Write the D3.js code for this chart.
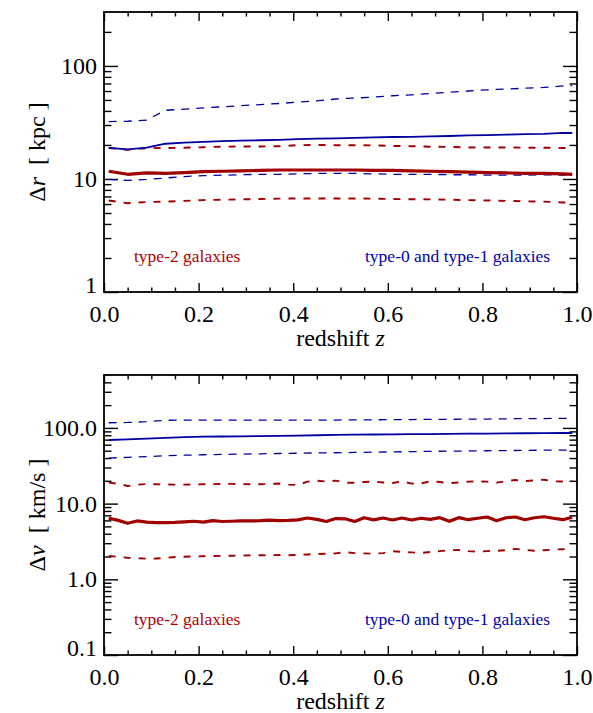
<!DOCTYPE html>
<html>
<head>
<meta charset="utf-8">
<script src="https://cdn.jsdelivr.net/npm/d3@7"></script>
<style>
  body { margin: 0; background: #fff; }
  svg text { font-family: "Liberation Serif", "Times New Roman", "DejaVu Serif", serif; }
</style>
</head>
<body>
<svg id="chart" width="593" height="713"></svg>
<script>
// redshift sampling: coarse grid (step 0.04) and fine grid (step 0.02)
const zCoarse = [0.01, 0.05, 0.09, 0.13, 0.17, 0.21, 0.25, 0.29, 0.33, 0.37, 0.41, 0.45, 0.49,
  0.53, 0.57, 0.61, 0.65, 0.69, 0.73, 0.77, 0.81, 0.85, 0.89, 0.93, 0.97, 0.99];
const zFine = [0.01, 0.03, 0.05, 0.07, 0.09, 0.11, 0.13, 0.15, 0.17, 0.19, 0.21, 0.23, 0.25,
  0.27, 0.29, 0.31, 0.33, 0.35, 0.37, 0.39, 0.41, 0.43, 0.45, 0.47, 0.49, 0.51, 0.53, 0.55,
  0.57, 0.59, 0.61, 0.63, 0.65, 0.67, 0.69, 0.71, 0.73, 0.75, 0.77, 0.79, 0.81, 0.83, 0.85,
  0.87, 0.89, 0.91, 0.93, 0.95, 0.97, 0.99];

// top panel: delta r [kpc]
const drBlueHi = [32.2, 32.4, 33.2, 40.5, 41.5, 42.5, 43.5, 44.5, 45.5, 46.5, 47.8, 49, 51,
  52, 53, 54.5, 55.5, 57, 58.5, 60, 61.5, 62.5, 63.5, 64.5, 66.5, 67];
const drBlueMed = [18.8, 18.3, 18.9, 20.5, 21.0, 21.3, 21.6, 21.8, 22.0, 22.2, 22.5, 22.7, 22.9,
  23.1, 23.3, 23.5, 23.6, 23.8, 24.0, 24.3, 24.4, 24.7, 24.9, 25.1, 25.6, 25.5];
const drBlueLo = [9.9, 9.7, 9.9, 10.2, 10.5, 10.7, 10.8, 10.9, 11.0, 11.0, 11.1, 11.2, 11.2,
  11.2, 11.1, 11.0, 11.0, 11.0, 10.9, 10.9, 10.8, 10.8, 10.8, 10.9, 10.8, 10.8];
const drRedHi = [18.8, 18.1, 18.7, 18.8, 18.9, 19.1, 19.3, 19.4, 19.4, 19.5, 19.9, 20.0, 19.9,
  19.9, 19.8, 19.6, 19.5, 19.3, 19.2, 19.0, 19.0, 19.0, 18.9, 18.9, 18.8, 18.8];
const drRedMed = [11.7, 11.0, 11.3, 11.2, 11.4, 11.6, 11.7, 11.8, 11.9, 12.0, 12.0, 12.0, 12.0,
  12.0, 11.9, 11.9, 11.8, 11.7, 11.6, 11.5, 11.4, 11.3, 11.2, 11.2, 11.1, 11.0];
const drRedLo = [6.45, 6.1, 6.25, 6.3, 6.4, 6.5, 6.55, 6.6, 6.65, 6.7, 6.72, 6.72, 6.72,
  6.72, 6.7, 6.65, 6.62, 6.6, 6.55, 6.5, 6.45, 6.4, 6.35, 6.3, 6.2, 6.15];

// bottom panel: delta v [km/s]
const dvBlueHi = [117, 118, 121, 126, 127, 127, 127, 127, 127, 127, 127, 127, 127,
  128, 128, 129, 129, 130, 130, 131, 131, 132, 133, 133, 134, 134];
const dvBlueMed = [69.2, 70.5, 72, 74, 75.5, 76.5, 77, 77.5, 78, 78.5, 79, 80, 81,
  81.3, 81.8, 82.2, 82.6, 83, 83.4, 83.8, 84.2, 84.6, 85, 85.3, 85.6, 85.7];
const dvBlueLo = [40, 40.8, 41.8, 42.8, 43.6, 44.2, 44.7, 45.1, 45.5, 45.9, 46.3, 46.7, 47,
  47.4, 47.8, 48.2, 48.6, 49, 49.3, 49.6, 49.9, 50.2, 50.5, 50.8, 51, 51];
const dvRedHi = [18.9, 18.3, 17.1, 17.8, 18.1, 18.0, 17.9, 17.8, 17.8, 17.9, 18.0, 18.1, 18.2,
  18.2, 18.1, 18.0, 18.0, 18.2, 18.4, 17.8, 17.6, 19.5, 20.1, 19.6, 20.1, 18.9, 18.9, 19.3,
  19.6, 19.0, 18.7, 19.7, 18.4, 18.5, 19.7, 19.3, 18.6, 19.0, 19.5, 19.6, 19.5, 18.9, 19.8,
  20.5, 19.8, 20.3, 20.7, 19.7, 19.6, 19.7];
const dvRedMed = [6.4, 6.0, 5.5, 5.9, 5.7, 5.6, 5.6, 5.65, 5.75, 5.85, 5.7, 5.95, 5.8,
  5.85, 5.9, 5.9, 5.95, 6.05, 5.95, 6.0, 6.1, 6.45, 6.2, 5.8, 6.35, 6.3, 5.8, 6.5,
  6.1, 6.45, 6.07, 6.45, 6.07, 6.4, 6.2, 6.52, 5.83, 6.52, 6.13, 6.4, 6.65, 5.94, 6.5,
  6.65, 6.13, 6.5, 6.71, 6.4, 6.13, 6.6];
const dvRedLo = [2.03, 1.98, 1.93, 1.90, 1.87, 1.88, 1.92, 1.97, 1.99, 2.0, 2.02, 2.03, 2.04,
  2.05, 2.06, 2.07, 2.08, 2.08, 2.09, 2.08, 2.1, 2.13, 2.16, 2.18, 2.2, 2.28, 2.22, 2.2,
  2.18, 2.22, 2.35, 2.3, 2.27, 2.22, 2.3, 2.36, 2.42, 2.44, 2.36, 2.32, 2.36, 2.38, 2.42,
  2.52, 2.45, 2.38, 2.42, 2.47, 2.5, 2.52];

const xMajor = [0, 0.2, 0.4, 0.6, 0.8, 1.0];
const xMinor = [0.05, 0.1, 0.15, 0.25, 0.3, 0.35, 0.45, 0.5, 0.55, 0.65, 0.7, 0.75, 0.85, 0.9, 0.95];
const drMajor = [1, 10, 100];
const drMinor = [2, 3, 4, 5, 6, 7, 8, 9, 20, 30, 40, 50, 60, 70, 80, 90, 200];
const dvMajor = [0.1, 1, 10, 100];
const dvMinor = [0.2, 0.3, 0.4, 0.5, 0.6, 0.7, 0.8, 0.9, 2, 3, 4, 5, 6, 7, 8, 9,
  20, 30, 40, 50, 60, 70, 80, 90, 200, 300, 400];

const BLUE = '#0000a0';
const RED = '#a00000';

const svg = d3.select('#chart');
const left = 104, right = 577;

const xScale = d3.scaleLinear().domain([0, 1]).range([left, right]);

const drawPanel = (opts) => {
  const { top, bottom, yDomain, yMajor, yMinor, yFormat, yTitle, series } = opts;
  const yScale = d3.scaleLog().domain(yDomain).range([bottom, top]);
  const g = svg.append('g');

  // ticks, all pointing inward
  const xAxes = [
    [d3.axisBottom(xScale).tickValues(xMajor).tickSize(-9).tickPadding(13).tickFormat(d3.format('.1f')), bottom],
    [d3.axisBottom(xScale).tickValues(xMinor).tickSize(-4.5).tickFormat(''), bottom],
    [d3.axisTop(xScale).tickValues(xMajor).tickSize(-9).tickFormat(''), top],
    [d3.axisTop(xScale).tickValues(xMinor).tickSize(-4.5).tickFormat(''), top]
  ];
  xAxes.forEach(([ax, y]) => {
    g.append('g').attr('transform', `translate(0,${y})`).call(ax);
  });
  const yAxes = [
    [d3.axisLeft(yScale).tickValues(yMajor).tickSize(-14).tickPadding(7).tickFormat(yFormat), left],
    [d3.axisLeft(yScale).tickValues(yMinor).tickSize(-7.5).tickFormat(''), left],
    [d3.axisRight(yScale).tickValues(yMajor).tickSize(-14).tickFormat(''), right],
    [d3.axisRight(yScale).tickValues(yMinor).tickSize(-7.5).tickFormat(''), right]
  ];
  const yLabelAxis = [];
  yAxes.forEach(([ax, x], i) => {
    const a = g.append('g').attr('transform', `translate(${x},0)`).call(ax);
    if (i === 0) yLabelAxis.push(a);
  });
  g.selectAll('.domain').remove();
  g.selectAll('.tick line').attr('stroke', '#000').attr('stroke-width', 1.4);
  g.selectAll('.tick text')
    .style('font-size', '24px')
    .attr('fill', '#000');
  // lowest label sits just above the bottom axis, as in the original
  yLabelAxis[0].selectAll('.tick text')
    .filter((d) => d === yDomain[0])
    .attr('dy', '0.02em');

  // data lines
  const clipId = 'clip' + top;
  svg.append('clipPath').attr('id', clipId)
    .append('rect').attr('x', left).attr('y', top).attr('width', right - left).attr('height', bottom - top);
  const lines = g.append('g').attr('clip-path', `url(#${clipId})`);
  series.forEach((s) => {
    const line = d3.line().x((d) => xScale(d[0])).y((d) => yScale(d[1]));
    lines.append('path')
      .datum(d3.zip(s.z, s.v))
      .attr('d', line)
      .attr('fill', 'none')
      .attr('stroke', s.color)
      .attr('stroke-width', s.width)
      .attr('stroke-dasharray', s.dash || null)
      .attr('stroke-linejoin', 'round');
  });

  // frame
  g.append('rect')
    .attr('x', left).attr('y', top)
    .attr('width', right - left).attr('height', bottom - top)
    .attr('fill', 'none').attr('stroke', '#000').attr('stroke-width', 1.8);

  // axis titles
  g.append('text')
    .attr('x', (left + right) / 2).attr('y', bottom + 54)
    .attr('text-anchor', 'middle')
    .style('font-size', '24px')
    .html('redshift <tspan font-style="italic">z</tspan>');
  g.append('text')
    .attr('transform', `translate(45,${(top + bottom) / 2}) rotate(-90)`)
    .attr('text-anchor', 'middle')
    .style('font-size', '24px')
    .style('white-space', 'pre')
    .html(yTitle);

  // labels
  g.append('text')
    .attr('x', 134).attr('y', bottom - 30)
    .attr('fill', '#b00000')
    .style('font-size', '17.5px')
    .text('type-2 galaxies');
  g.append('text')
    .attr('x', 365).attr('y', bottom - 30)
    .attr('fill', '#0000b0')
    .style('font-size', '17.5px')
    .text('type-0 and type-1 galaxies');
};

drawPanel({
  top: 12, bottom: 292,
  yDomain: [1, 300],
  yMajor: drMajor, yMinor: drMinor,
  yFormat: d3.format('d'),
  yTitle: '\u0394<tspan font-style="italic">r</tspan>  [ kpc ]',
  series: [
    { z: zCoarse, v: drBlueHi, color: BLUE, width: 1.3, dash: '8,7' },
    { z: zCoarse, v: drBlueLo, color: BLUE, width: 1.3, dash: '8,7' },
    { z: zCoarse, v: drRedHi, color: RED, width: 1.9, dash: '7,8' },
    { z: zCoarse, v: drRedLo, color: RED, width: 1.9, dash: '7,8' },
    { z: zCoarse, v: drBlueMed, color: BLUE, width: 1.8 },
    { z: zCoarse, v: drRedMed, color: RED, width: 3.2 }
  ]
});

drawPanel({
  top: 375, bottom: 655,
  yDomain: [0.1, 500],
  yMajor: dvMajor, yMinor: dvMinor,
  yFormat: d3.format('.1f'),
  yTitle: '\u0394<tspan font-style="italic">v</tspan>  [ km/s ]',
  series: [
    { z: zCoarse, v: dvBlueHi, color: BLUE, width: 1.3, dash: '8,7' },
    { z: zCoarse, v: dvBlueLo, color: BLUE, width: 1.3, dash: '8,7' },
    { z: zFine, v: dvRedHi, color: RED, width: 1.9, dash: '7,8' },
    { z: zFine, v: dvRedLo, color: RED, width: 1.9, dash: '7,8' },
    { z: zCoarse, v: dvBlueMed, color: BLUE, width: 1.8 },
    { z: zFine, v: dvRedMed, color: RED, width: 3.2 }
  ]
});
</script>
</body>
</html>
